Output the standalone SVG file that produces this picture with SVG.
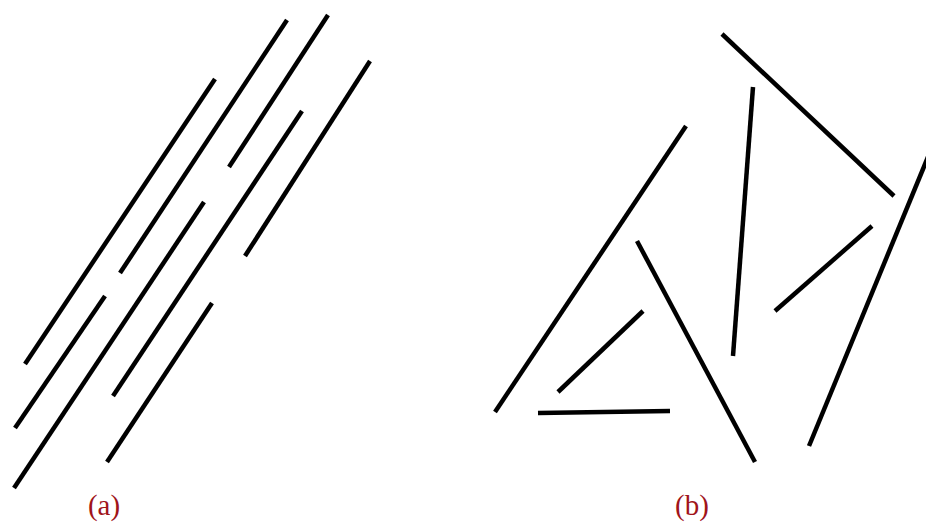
<svg xmlns="http://www.w3.org/2000/svg" width="926" height="523" viewBox="0 0 926 523">
<style>
.seg{stroke:#000;stroke-width:4.5;stroke-linecap:butt;fill:none}
.lbl{font-family:"Liberation Serif","Times New Roman",serif;font-size:29px;fill:#a0141a;text-anchor:middle}
</style>
<rect width="926" height="523" fill="#fff"/>
<g id="panel-a">
<line class="seg" x1="215" y1="79" x2="25" y2="364"/>
<line class="seg" x1="287" y1="20" x2="120" y2="273"/>
<line class="seg" x1="328" y1="15" x2="229" y2="167"/>
<line class="seg" x1="302" y1="111" x2="113" y2="396"/>
<line class="seg" x1="370" y1="61" x2="245" y2="256"/>
<line class="seg" x1="204" y1="202" x2="14" y2="488"/>
<line class="seg" x1="105" y1="296" x2="15" y2="428"/>
<line class="seg" x1="212" y1="303" x2="107" y2="462"/>
<text class="lbl" x="104" y="515">(a)</text>
</g>
<g id="panel-b">
<line class="seg" x1="722" y1="34" x2="894" y2="196"/>
<line class="seg" x1="753" y1="87" x2="733" y2="356"/>
<line class="seg" x1="686" y1="126" x2="495" y2="412"/>
<line class="seg" x1="637" y1="241" x2="755" y2="462"/>
<line class="seg" x1="872" y1="226" x2="775" y2="311"/>
<line class="seg" x1="930" y1="152" x2="809" y2="446"/>
<line class="seg" x1="643" y1="311" x2="558" y2="392"/>
<line class="seg" x1="538" y1="413" x2="670" y2="411"/>
<text class="lbl" x="692" y="515">(b)</text>
</g>
</svg>
